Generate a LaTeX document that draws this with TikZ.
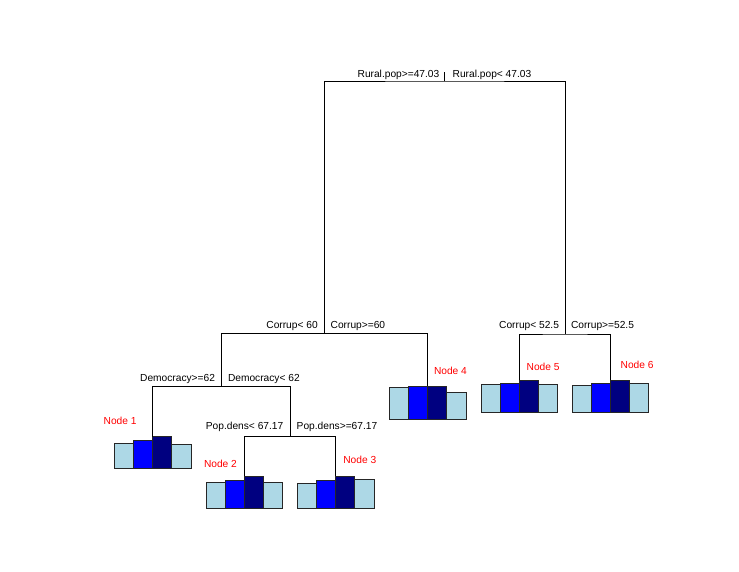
\documentclass[tikz,border=0pt]{standalone}
\usepackage{fontspec}
\setmainfont{Liberation Sans}
\definecolor{lb}{RGB}{173,216,230}
\definecolor{bb}{RGB}{0,0,255}
\definecolor{nv}{RGB}{0,0,128}
\tikzset{
  lbl/.style={inner sep=0pt, outer sep=0pt, font=\fontsize{10.2}{12}\selectfont},
  nodelbl/.style={lbl, text=red},
  barbox/.style={draw=black!85, line width=0.8pt, inner sep=0pt, outer sep=0pt,
    minimum width=19.15pt, anchor=south west},
  edge/.style={draw=black, line width=0.8pt}
}
\newcommand\mybars[7]{%
  \node[barbox, fill=lb, minimum height=#4pt] (#1a) at ({#2-2*19.15},#3) {};
  \node[barbox, fill=bb, minimum height=#5pt] (#1b) at ({#2-19.15},#3) {};
  \node[barbox, fill=nv, minimum height=#6pt] (#1c) at (#2,#3) {};
  \node[barbox, fill=lb, minimum height=#7pt] (#1d) at ({#2+19.15},#3) {};
}
\begin{document}
\begin{tikzpicture}[x=1pt, y=-1pt]
\fill[white] (0,0) rectangle (739,571);
\useasboundingbox (0,0) rectangle (739,571);

% terminal bar plots
\mybars{n1}{152.7}{468}{24.7}{27.7}{31.3}{23.3}
\mybars{n2}{244.3}{508.3}{26}{28.3}{32}{26}
\mybars{n3}{335.7}{508.3}{24.6}{28.3}{32}{28.6}
\mybars{n4}{427.6}{419}{31.7}{32.7}{32.7}{26.7}
\mybars{n5}{519.2}{412.7}{28}{29}{32.7}{28}
\mybars{n6}{610.5}{412.7}{27.4}{29.4}{32.7}{29.4}

% split junctions
\coordinate (top) at (444.3,71.5);
\coordinate (s1) at (444.3,81);
\coordinate (s2) at (324.5,333.3);
\coordinate (s3) at (565.2,334);
\coordinate (s4) at (221.7,386.3);
\coordinate (s5) at (290.3,436.7);

% connectors
\draw[edge] (s1) -- (top);
\draw[edge] (s2) |- (s1) -| (s3);
\draw[edge] (s4) |- (s2) -| (n4c.north west);
\draw[edge] (n1c.north west) |- (s4) -| (s5);
\draw[edge] (n2c.north west) |- (s5) -| (n3c.north west);
\draw[edge] (n5c.north west) |- (s3) -| (n6c.north west);

% split labels
\node[lbl, anchor=base east] (l1) at (439.3,77.5) {Rural.pop>=47.03};
\node[lbl, anchor=base west] (r1) at (452.7,77.5) {Rural.pop< 47.03};
\node[lbl, anchor=base east] (l2) at (317.7,328.5) {Corrup< 60};
\node[lbl, anchor=base west] (r2) at (330.7,328.5) {Corrup>=60};
\node[lbl, anchor=base east] (l3) at (559,328.5) {Corrup< 52.5};
\node[lbl, anchor=base west] (r3) at (571,328.5) {Corrup>=52.5};
\node[lbl, anchor=base east] (l4) at (215,381.2) {Democracy>=62};
\node[lbl, anchor=base west] (r4) at (228,381.2) {Democracy< 62};
\node[lbl, anchor=base east] (l5) at (283.3,429.5) {Pop.dens< 67.17};
\node[lbl, anchor=base west] (r5) at (296.7,429.5) {Pop.dens>=67.17};

% node labels
\node[nodelbl, anchor=base west] (t1) at (103.7,424.5) {Node 1};
\node[nodelbl, anchor=base west] (t2) at (204,467) {Node 2};
\node[nodelbl, anchor=base west] (t3) at (343.3,463) {Node 3};
\node[nodelbl, anchor=base west] (t4) at (434,374) {Node 4};
\node[nodelbl, anchor=base west] (t5) at (526.7,370) {Node 5};
\node[nodelbl, anchor=base west] (t6) at (620.7,368.3) {Node 6};
\end{tikzpicture}
\end{document}
